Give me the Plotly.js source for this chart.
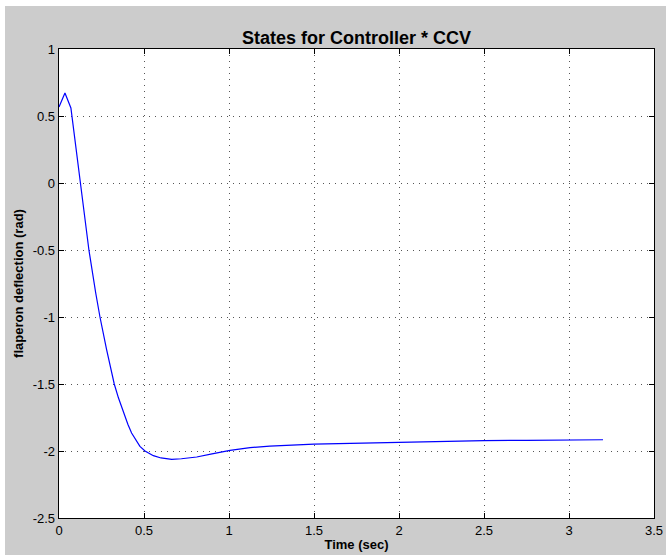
<!DOCTYPE html>
<html>
<head>
<meta charset="utf-8">
<script src="https://cdn.plot.ly/plotly-3.0.1.min.js"></script>
<style>
html,body{margin:0;padding:0;background:#ffffff;width:666px;height:558px;overflow:hidden;}
#chart{position:absolute;left:5px;top:6px;width:661px;height:549px;}
</style>
</head>
<body>
<div id="chart"></div>
<script>
const timeSec = [0, 0.035, 0.07, 0.128, 0.176, 0.216, 0.241, 0.28, 0.325, 0.35, 0.373, 0.405, 0.427, 0.452, 0.476, 0.506, 0.53, 0.555, 0.6, 0.663, 0.72, 0.81, 0.9, 1.006, 1.124, 1.24, 1.5, 1.75, 2.0, 2.3, 2.5, 2.75, 3.0, 3.2];
const flaperon = [0.567, 0.672, 0.56, 0, -0.5, -0.821, -1.0, -1.243, -1.5, -1.605, -1.692, -1.8, -1.866, -1.922, -1.966, -2.0, -2.02, -2.035, -2.052, -2.062, -2.058, -2.045, -2.022, -1.996, -1.975, -1.963, -1.948, -1.941, -1.936, -1.928, -1.923, -1.920, -1.918, -1.916];
const xTicks = [0, 0.5, 1, 1.5, 2, 2.5, 3, 3.5];
const xTickText = ['0', '0.5', '1', '1.5', '2', '2.5', '3', '3.5'];
const yTicks = [-2.5, -2, -1.5, -1, -0.5, 0, 0.5, 1];
const yTickText = ['-2.5', '-2', '-1.5', '-1', '-0.5', '0', '0.5', '1'];

const font = 'Liberation Sans, Arial, Helvetica, sans-serif';
const axisCommon = {
  showline: true, linecolor: '#000', linewidth: 1.3, mirror: 'ticks',
  ticks: 'inside', ticklen: 5, tickcolor: '#000', tickwidth: 1,
  showgrid: true, gridcolor: '#555', gridwidth: 1, griddash: '1px,5px',
  zeroline: false, tickfont: {family: font, size: 13, color: '#000'}
};

Plotly.newPlot('chart', [{
  x: timeSec, y: flaperon, type: 'scatter', mode: 'lines',
  line: {color: '#0000ff', width: 1.2, shape: 'linear'}, hoverinfo: 'skip'
}], {
  width: 661, height: 549,
  paper_bgcolor: '#cccccc', plot_bgcolor: '#ffffff',
  margin: {l: 54, r: 12, t: 43, b: 37, pad: 0},
  showlegend: false,
  title: {text: '<b>States for Controller * CCV</b>', font: {family: font, size: 18, color: '#000'},
          x: 0.5, xref: 'paper', xanchor: 'center', y: 1, yref: 'paper', yanchor: 'bottom', pad: {b: 5}},
  xaxis: Object.assign({}, axisCommon, {
    range: [0, 3.5], tickvals: xTicks, ticktext: xTickText,
    title: {text: '<b>Time (sec)</b>', font: {family: font, size: 13, color: '#000'}, standoff: 3}
  }),
  yaxis: Object.assign({}, axisCommon, {
    range: [-2.5, 1], tickvals: yTicks, ticktext: yTickText,
    title: {text: '<b>flaperon deflection (rad)</b>', font: {family: font, size: 13, color: '#000'}, standoff: 6}
  })
}, {displayModeBar: false, staticPlot: true});
</script>
</body>
</html>
